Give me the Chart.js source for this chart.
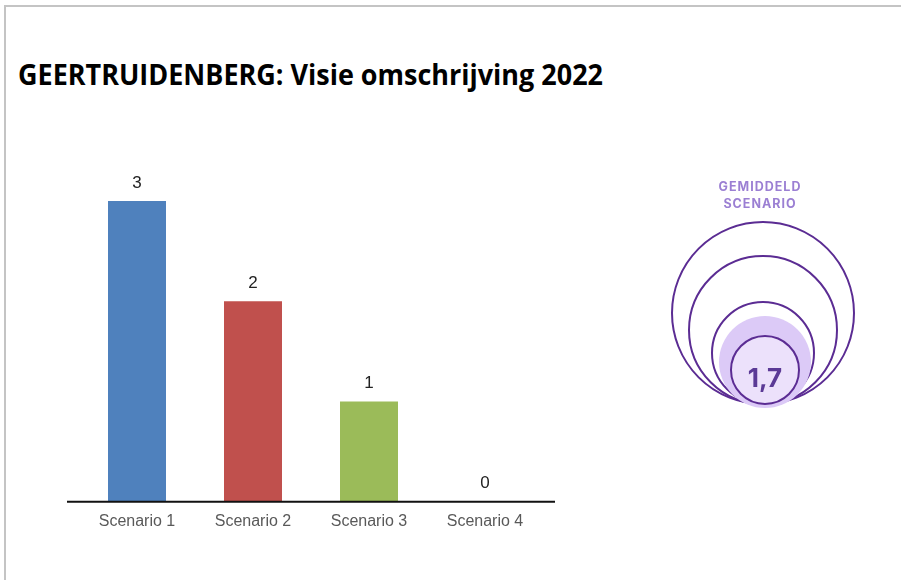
<!DOCTYPE html>
<html>
<head>
<meta charset="utf-8">
<script src="https://cdn.jsdelivr.net/npm/chart.js@4.4.1/dist/chart.umd.min.js"></script>
<style>
  html, body { margin: 0; padding: 0; background: #fff; }
  #page { position: relative; width: 901px; height: 580px; overflow: hidden; }
  #frame { position: absolute; left: 4px; top: 5px; width: 920px; height: 600px;
           border-left: 2px solid #c4c4c4; border-top: 2px solid #c4c4c4; }
  #title { position: absolute; left: 18px; top: 54px; font-family: "Open Sans", sans-serif;
           font-weight: bold; font-size: 29px; color: #000; white-space: nowrap;
           transform: scaleX(0.93); transform-origin: left top; }
  #chart { position: absolute; left: 0; top: 0; }
  #avg { position: absolute; left: 640px; top: 170px; }
</style>
</head>
<body>
<div id="page">
  <div id="frame"></div>
  <div id="title">GEERTRUIDENBERG: Visie omschrijving 2022</div>
  <canvas id="chart" width="901" height="580"></canvas>
  <svg id="avg" width="250" height="250" viewBox="0 0 250 250">
    <text x="120" y="21" text-anchor="middle" font-family="Inter, 'Open Sans', sans-serif" font-weight="700"
          font-size="12.5" letter-spacing="1" fill="#9b7fd3">GEMIDDELD</text>
    <text x="120" y="38" text-anchor="middle" font-family="Inter, 'Open Sans', sans-serif" font-weight="700"
          font-size="12.5" letter-spacing="1" fill="#9b7fd3">SCENARIO</text>
    <circle cx="123" cy="143" r="91" fill="none" stroke="#5b2c93" stroke-width="2"/>
    <circle cx="123" cy="160" r="74" fill="none" stroke="#5b2c93" stroke-width="2"/>
    <circle cx="123" cy="183" r="51" fill="#fff" stroke="#5b2c93" stroke-width="2"/>
    <circle cx="125" cy="192" r="46" fill="#dccaf7"/>
    <circle cx="125" cy="200" r="34" fill="#ece1fb" stroke="#5b2c93" stroke-width="2"/>
    <text id="avgText" x="125" y="217" text-anchor="middle" font-family="Inter, 'Open Sans', sans-serif"
          font-weight="700" font-size="26" fill="#5b3a96"></text>
  </svg>
</div>
<script>
const categories = ['Scenario 1', 'Scenario 2', 'Scenario 3', 'Scenario 4'];
const counts = [3, 2, 1, 0];
const barColors = ['#4f81bd', '#c0504d', '#9bbb59', '#8064a2'];
const yTicks = [0, 1, 2, 3];

// gemiddeld scenario uit de aantallen
const total = counts.reduce((a, b) => a + b, 0);
const avg = counts.reduce((s, c, i) => s + c * (i + 1), 0) / total;
document.getElementById('avgText').textContent = avg.toFixed(1).replace('.', ',');

const valueLabels = {
  id: 'valueLabels',
  afterDatasetsDraw(chart) {
    const ctx = chart.ctx;
    const meta = chart.getDatasetMeta(0);
    ctx.save();
    ctx.font = '17px "Liberation Sans", Arial, sans-serif';
    ctx.fillStyle = '#222';
    ctx.textAlign = 'center';
    ctx.textBaseline = 'middle';
    meta.data.forEach((bar, i) => {
      ctx.fillText(String(counts[i]), bar.x, bar.y - 18);
    });
    ctx.restore();
  }
};

const baseLine = {
  id: 'baseLine',
  afterDatasetsDraw(chart) {
    const { ctx, chartArea } = chart;
    const y = chart.scales.y.getPixelForValue(0);
    ctx.save();
    ctx.strokeStyle = '#111';
    ctx.lineWidth = 2;
    ctx.beginPath();
    ctx.moveTo(chartArea.left - 12, y);
    ctx.lineTo(chartArea.right + 12, y);
    ctx.stroke();
    ctx.restore();
  }
};

new Chart(document.getElementById('chart'), {
  type: 'bar',
  data: {
    labels: categories,
    datasets: [{ data: counts, backgroundColor: barColors, barPercentage: 0.5, categoryPercentage: 1 }]
  },
  options: {
    responsive: false,
    animation: false,
    layout: { padding: { left: 79, right: 358, top: 201, bottom: 39 } },
    plugins: { legend: { display: false }, tooltip: { enabled: false }, title: { display: false } },
    scales: {
      x: {
        grid: { display: false, drawTicks: false },
        border: { display: false },
        ticks: { color: '#595959', font: { family: '"Liberation Sans", Arial, sans-serif', size: 16 }, padding: 10 }
      },
      y: {
        display: false,
        min: 0, max: yTicks[yTicks.length - 1],
        afterBuildTicks: s => { s.ticks = yTicks.map(v => ({ value: v })); }
      }
    }
  },
  plugins: [valueLabels, baseLine]
});
</script>
</body>
</html>
